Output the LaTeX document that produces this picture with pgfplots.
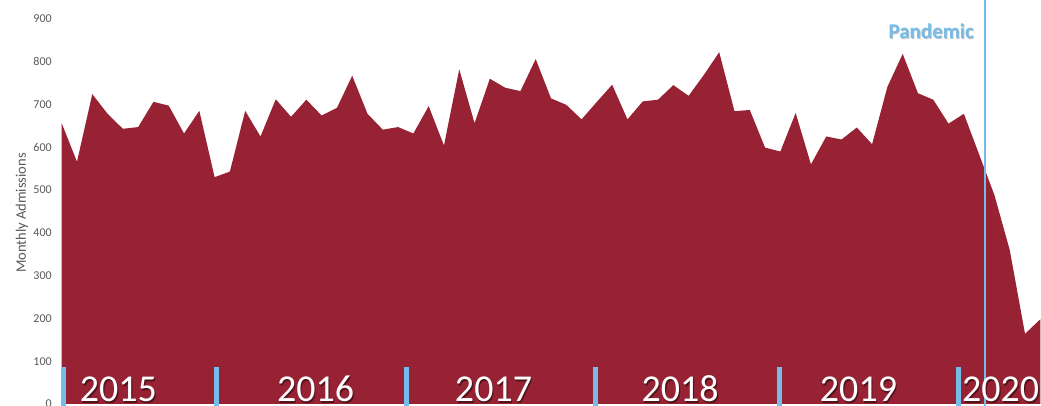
\documentclass[border=0pt]{standalone}
\usepackage{pgfplots}
\pgfplotsset{compat=1.18}
\usepackage{fontspec}
\setmainfont{Carlito}
\definecolor{areared}{RGB}{150,34,51}
\definecolor{pblue}{RGB}{116,189,234}
\definecolor{tickgray}{RGB}{89,89,89}
\begin{document}
\begin{tikzpicture}
\begin{axis}[
  at={(46.275pt,1.5pt)}, anchor=south west,
  scale only axis, width=733.95pt, height=288.9pt,
  xmin=0, xmax=64, ymin=0, ymax=900,
  clip=false,
  axis line style={draw=none},
  major tick length=0pt,
  xtick=\empty,
  ytick={0,100,...,900},
  yticklabel style={font=\fontsize{9}{10}\selectfont, text=tickgray, anchor=east, inner sep=0pt, xshift=-7.3pt},
  /pgf/number format/assume math mode=true,
]
\addplot[fill=areared, draw=none] coordinates {
(0,656) (1,566) (2,724) (3,678) (4,643) (5,647) (6,706) (7,697) (8,632) (9,685)
(10,530) (11,543) (12,685) (13,625) (14,712) (15,671) (16,711) (17,674) (18,692) (19,767)
(20,678) (21,641) (22,647) (23,632) (24,696) (25,604) (26,782) (27,656) (28,760) (29,739)
(30,731) (31,806) (32,714) (33,699) (34,665) (35,706) (36,746) (37,665) (38,707) (39,711)
(40,745) (41,720) (42,769) (43,822) (44,684) (45,687) (46,599) (47,590) (48,680) (49,560)
(50,625) (51,618) (52,646) (53,607) (54,741) (55,818) (56,726) (57,711) (58,655) (59,678)
(60,583) (61,488) (62,360) (63,164) (64,198)
} \closedcycle;
% year markers
\foreach \xx in {0.118,10.12,22.55,34.91,46.95,58.62}{
  \edef\tmp{\noexpand\draw[pblue, line width=3.75pt] (axis cs:\xx,-6) -- (axis cs:\xx,86);}
  \tmp
}
% pandemic line
\draw[pblue, line width=1.5pt] (axis cs:60.39,-6) -- (axis cs:60.39,950);
\node[anchor=base east, inner sep=0pt, font=\fontsize{15.75}{18}\selectfont\bfseries, text=black, opacity=0.25] at ([xshift=0.6pt,yshift=-0.6pt]axis cs:59.67,853) {Pandemic};
\node[anchor=base east, inner sep=0pt, font=\fontsize{15.75}{18}\selectfont\bfseries, text=pblue] at (axis cs:59.67,853) {Pandemic};
% year labels
\foreach \xx/\yy in {3.71/2015,16.6/2016,28.24/2017,40.44/2018,52.11/2019,61.4/2020}{
  \edef\tmp{\noexpand\node[anchor=base, inner sep=0pt, font=\noexpand\fontsize{28.5}{30}\noexpand\selectfont, text=black, opacity=0.45] at ([xshift=0.9pt,yshift=-0.9pt]axis cs:\xx,4.7) {\yy};
  \noexpand\node[anchor=base, inner sep=0pt, font=\noexpand\fontsize{28.5}{30}\noexpand\selectfont, text=white] at (axis cs:\xx,4.7) {\yy};}
  \tmp
}
\end{axis}
\node[rotate=90, inner sep=0pt, font=\fontsize{10.9}{12}\selectfont, text=tickgray] at (16.5pt,144.75pt) {Monthly Admissions};
\pgfresetboundingbox
\useasboundingbox (0,0) rectangle (780.75pt,304.5pt);
\end{tikzpicture}
\end{document}
